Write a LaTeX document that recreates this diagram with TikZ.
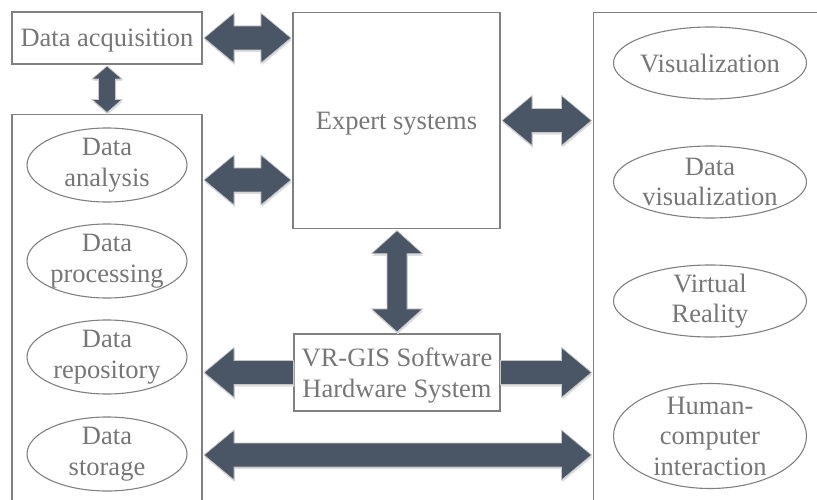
\documentclass[tikz,border=0pt]{standalone}
\usepackage{fontspec}
\setmainfont{Liberation Serif}
\usetikzlibrary{calc}
\definecolor{txt}{HTML}{767676}
\definecolor{edge}{HTML}{808080}
\definecolor{arr}{HTML}{4A5666}
% double block arrow: #1 end A, #2 end B, #3 shaft half, #4 head half, #5 head length
\newcommand\dblarrow[5]{%
  \coordinate (tA) at ($(#1)!1.5pt!(#2)$);
  \coordinate (tB) at ($(#2)!1.5pt!(#1)$);
  \coordinate (hA) at ($(tA)!#5!(tB)$);
  \coordinate (hB) at ($(tB)!#5!(tA)$);
  \foreach \sty in {shadowsty,arrowsty}{
    \path[\sty] (tA) -- ($(hA)!#4!90:(tB)$) -- ($(hA)!#3!90:(tB)$)
      -- ($(hB)!#3!-90:(tA)$) -- ($(hB)!#4!-90:(tA)$) -- (tB)
      -- ($(hB)!#4!90:(tA)$) -- ($(hB)!#3!90:(tA)$)
      -- ($(hA)!#3!-90:(tB)$) -- ($(hA)!#4!-90:(tB)$) -- cycle;}
}
% single block arrow: tail #1, tip #2
\newcommand\sglarrow[5]{%
  \coordinate (tA) at (#1);
  \coordinate (tB) at ($(#2)!1.5pt!(#1)$);
  \coordinate (hB) at ($(tB)!#5!(tA)$);
  \foreach \sty in {shadowsty,arrowsty}{
    \path[\sty] ($(tA)!#3!90:(tB)$)
      -- ($(hB)!#3!-90:(tA)$) -- ($(hB)!#4!-90:(tA)$) -- (tB)
      -- ($(hB)!#4!90:(tA)$) -- ($(hB)!#3!90:(tA)$)
      -- ($(tA)!#3!-90:(tB)$) -- cycle;}
}
\begin{document}
\begin{tikzpicture}[x=1pt,y=-1pt,
  every node/.style={font=\fontsize{26.5}{30.5}\selectfont, text=txt, align=center, inner sep=0pt},
  box/.style={draw=edge, line width=1.1pt, rectangle},
  one/.style={text depth=0pt},
  ell/.style={draw=edge, line width=1.1pt},
  shadowsty/.style={fill=black!13, transform canvas={shift={(0.8pt,-2.2pt)}}},
  arrowsty/.style={fill=arr, draw=black!22, line width=0.7pt, line join=miter}]
\useasboundingbox (0,0) rectangle (817,500);

% boxes
\node[box, one, minimum width=190pt, minimum height=52pt] (da) at (107,38) {Data acquisition};
\node[box, minimum width=190pt, minimum height=392pt, anchor=north] (lb) at (107,114) {};
\node[box, one, minimum width=207pt, minimum height=216pt, anchor=north] (ex) at (396.5,12) {Expert systems};
\node[box, minimum width=230pt, minimum height=495pt, anchor=north west] (rb) at (593,12) {};
\node[box, one, minimum width=206pt, minimum height=77pt] (vr) at (397,372.5) {VR-GIS Software\\Hardware System};

% left ellipses
\node (l1) at (107,165) {Data\\analysis};
\node (l2) at (107,261) {Data\\processing};
\node (l3) at (107,357) {Data\\repository};
\node (l4) at (107,454) {Data\\storage};
\foreach \n in {l1,l2,l3,l4}
  \draw[ell] (\n) ellipse [x radius=80pt, y radius=37pt];

% right ellipses
\node[one] (r1) at (710,63) {Visualization};
\node (r2) at (710,182) {Data\\visualization};
\node (r3) at (710,301) {Virtual\\Reality};
\node (r4) at (710,436) {Human-\\computer\\interaction};
\foreach \n in {r1,r2,r3}
  \draw[ell] (\n) ellipse [x radius=96.5pt, y radius=36pt];
\draw[ell] (r4) ellipse [x radius=96.5pt, y radius=52.5pt];

% helper coordinates
\coordinate (m1) at (0,180);
\coordinate (m2) at (0,455);

% arrows
\dblarrow{da.east}{da.east -| ex.west}{12pt}{25pt}{30pt}
\dblarrow{lb.east |- m1}{ex.west |- m1}{12pt}{25pt}{30pt}
\dblarrow{ex.east}{ex.east -| rb.west}{12pt}{25pt}{30pt}
\dblarrow{da.south}{lb.north}{8.5pt}{15pt}{13pt}
\dblarrow{vr.north |- ex.south}{vr.north}{10pt}{25.5pt}{23pt}
\sglarrow{vr.west}{vr.west -| lb.east}{12pt}{25pt}{30pt}
\sglarrow{vr.east}{vr.east -| rb.west}{12pt}{25pt}{30pt}
\dblarrow{lb.east |- m2}{rb.west |- m2}{12pt}{25pt}{30pt}
\end{tikzpicture}
\end{document}
